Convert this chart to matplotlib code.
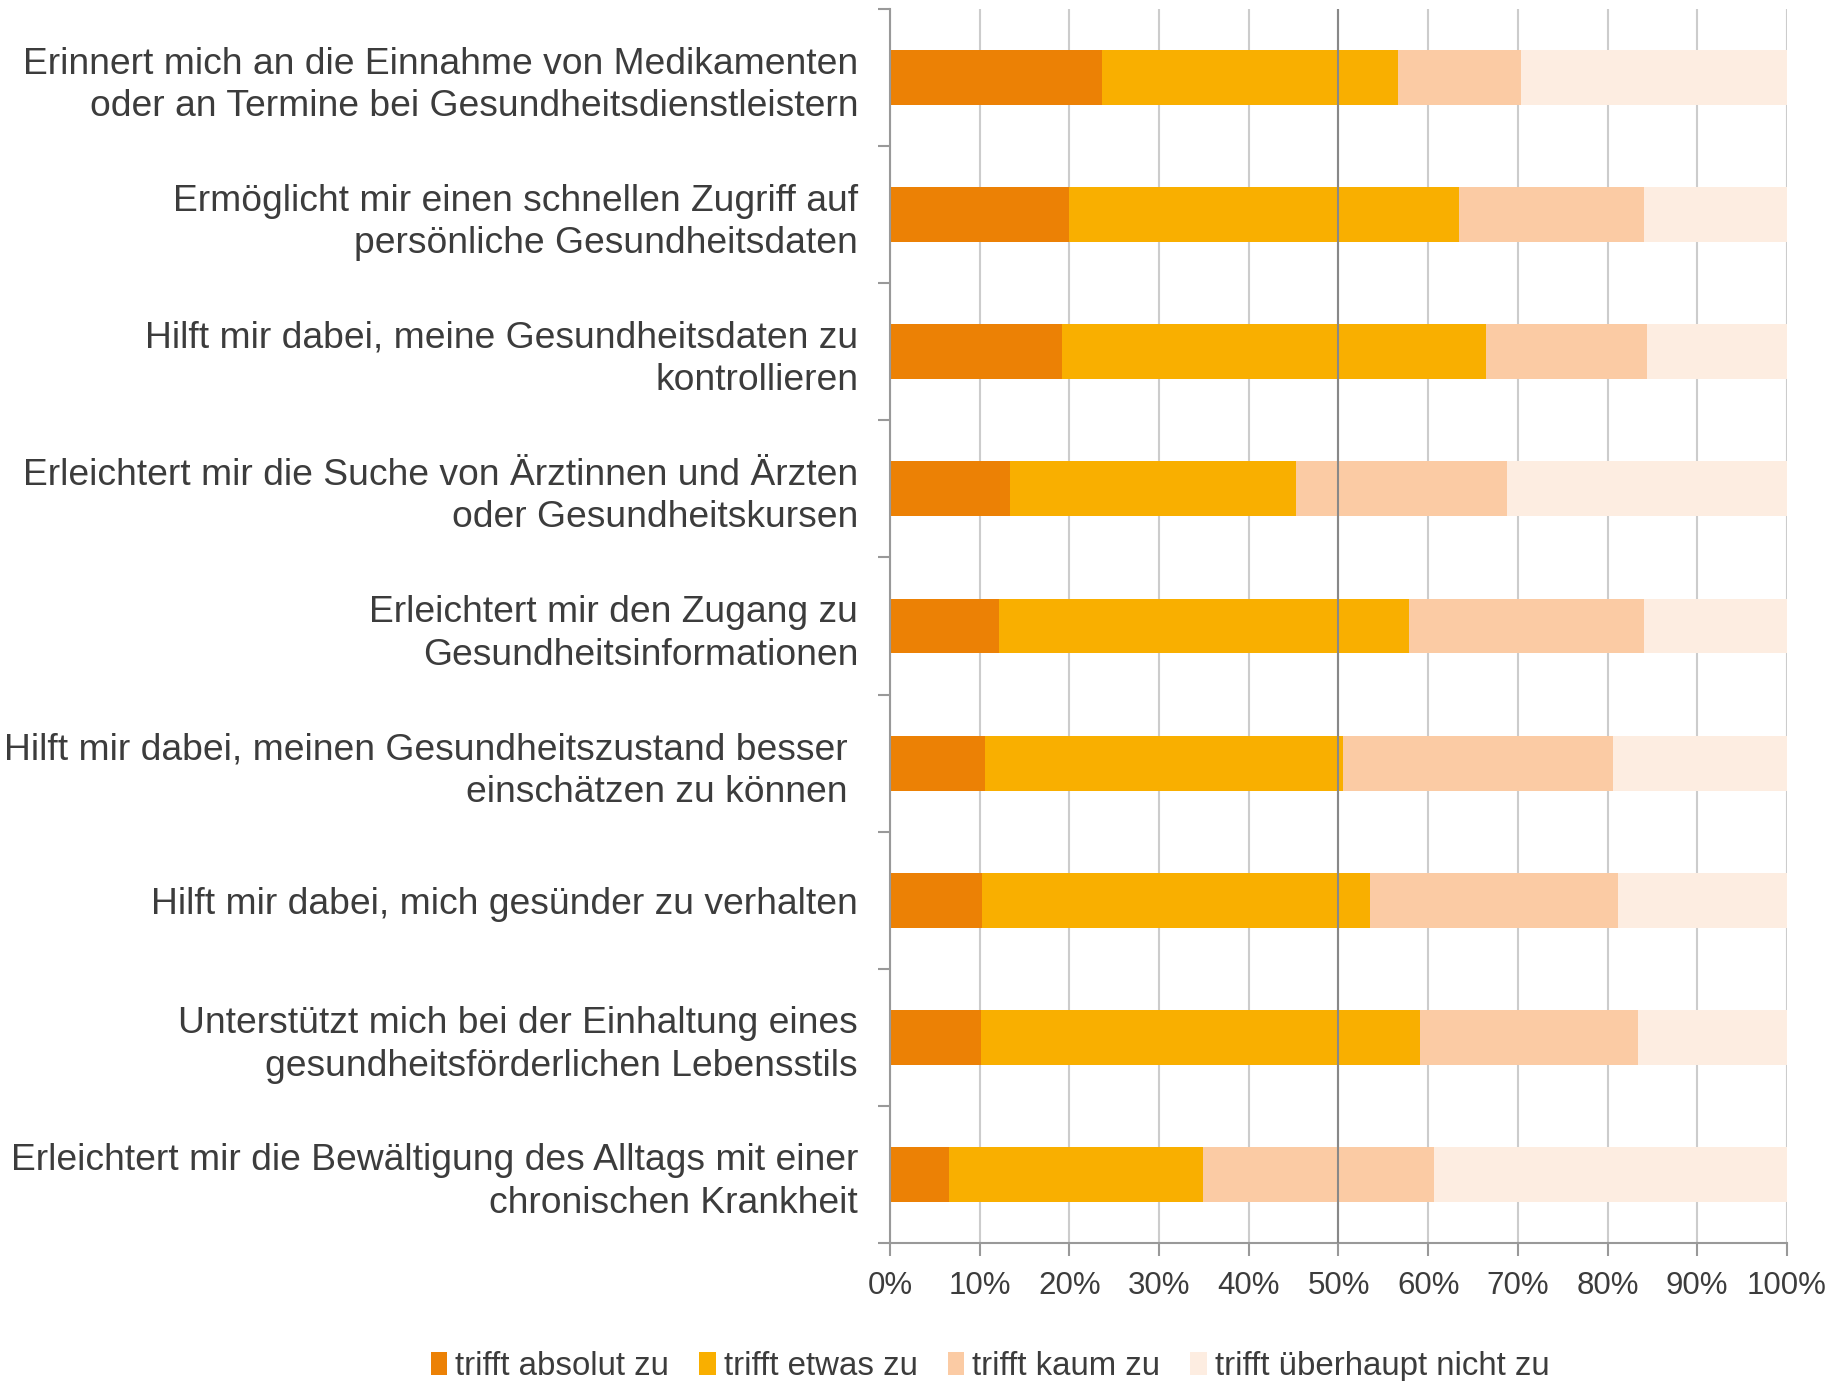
#!/usr/bin/env python3

import numpy as np
from matplotlib import pyplot as plt
from matplotlib.ticker import FixedLocator

plt.rcParams['font.family'] = ['Liberation Sans', 'DejaVu Sans']

# data (top to bottom), shares in percent
categories = [
    'Erinnert mich an die Einnahme von Medikamenten\noder an Termine bei Gesundheitsdienstleistern',
    'Ermöglicht mir einen schnellen Zugriff auf\npersönliche Gesundheitsdaten',
    'Hilft mir dabei, meine Gesundheitsdaten zu\nkontrollieren',
    'Erleichtert mir die Suche von Ärztinnen und Ärzten\noder Gesundheitskursen',
    'Erleichtert mir den Zugang zu\nGesundheitsinformationen',
    'Hilft mir dabei, meinen Gesundheitszustand besser \neinschätzen zu können ',
    'Hilft mir dabei, mich gesünder zu verhalten',
    'Unterstützt mich bei der Einhaltung eines\ngesundheitsförderlichen Lebensstils',
    'Erleichtert mir die Bewältigung des Alltags mit einer\nchronischen Krankheit',
]
absolut = [23.6, 20.0, 19.2, 13.4, 12.2, 10.6, 10.3, 10.1, 6.6]
etwas = [33.0, 43.4, 47.3, 31.9, 45.7, 39.9, 43.2, 49.0, 28.3]
kaum = [13.8, 20.7, 17.9, 23.5, 26.2, 30.1, 27.7, 24.3, 25.8]
nicht = [29.6, 15.9, 15.6, 31.2, 15.9, 19.4, 18.8, 16.6, 39.3]

series = ['trifft absolut zu', 'trifft etwas zu', 'trifft kaum zu', 'trifft überhaupt nicht zu']
colors = ['#EC8105', '#F9AF00', '#FBCBA4', '#FDEDE1']
text_color = '#3C3C3C'

fig = plt.figure(figsize=(18.42, 13.81), dpi=100)
ax = fig.add_axes([0.4832, 0.0999, 0.4869, 0.8936])

y = np.arange(len(categories))
left = np.zeros(len(categories))
for vals, name, col in zip([absolut, etwas, kaum, nicht], series, colors):
    ax.barh(y, vals, left=left, height=0.4, color=col, label=name, zorder=2)
    left += np.array(vals)

ax.set_xlim(0, 100)
ax.set_ylim(len(categories) - 0.5, -0.5)

# grid
ax.set_xticks(np.arange(0, 101, 10))
ax.set_xticklabels(['{}%'.format(v) for v in range(0, 101, 10)])
ax.xaxis.grid(True, color='#CCCCCC', linewidth=1.5, zorder=0)
ax.set_axisbelow(True)
ax.axvline(50, color='#888888', linewidth=1.5, zorder=3)

# y labels at centers, ticks at boundaries
ax.set_yticks(y)
ax.set_yticklabels(categories, fontsize=26.8, color=text_color, linespacing=1.28)
ax.yaxis.set_minor_locator(FixedLocator(np.arange(-0.5, len(categories), 1)))
ax.tick_params(axis='y', which='major', length=0, pad=23)
ax.tick_params(axis='y', which='minor', length=9, width=1.5, color='#999999')
ax.tick_params(axis='x', length=9, width=1.5, color='#999999', labelsize=22.5,
               labelcolor=text_color, pad=11)

for s in ['top', 'right']:
    ax.spines[s].set_visible(False)
for s in ['left', 'bottom']:
    ax.spines[s].set_color('#999999')
    ax.spines[s].set_linewidth(1.5)

fig.legend(loc='center', bbox_to_anchor=(0.5375, 0.0105), ncol=4, frameon=False,
           fontsize=23.8, handlelength=0.5, handleheight=0.7, handletextpad=0.25,
           columnspacing=0.9, labelcolor=text_color)

fig.savefig('out.png', dpi=100)
